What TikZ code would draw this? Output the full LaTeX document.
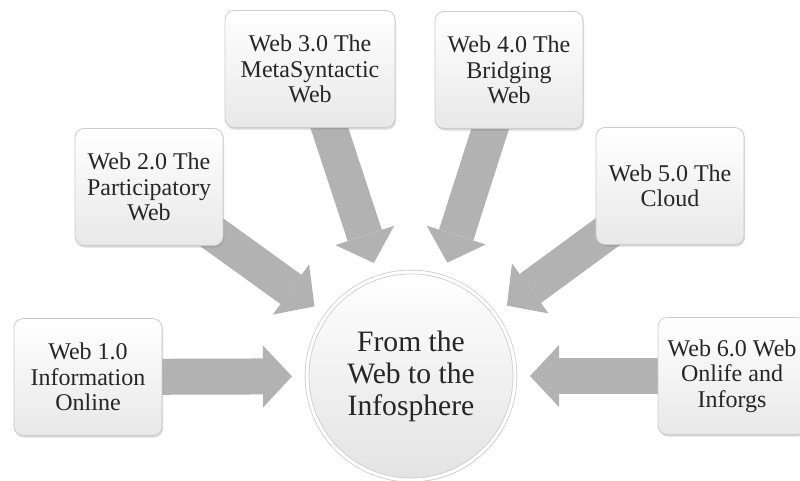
\documentclass[tikz,border=0pt]{standalone}
\usepackage{fontspec}
\setmainfont{Liberation Serif}
\usetikzlibrary{calc,arrows.meta,shadows,backgrounds}

\begin{document}
\begin{tikzpicture}[
        x=1pt, y=-1pt,
        webbox/.style={draw=gray!40, line width=0.8pt, rounded corners=9pt,
          top color=white, bottom color=gray!18, text=black!85,
          minimum width=148pt, minimum height=117pt, inner sep=2pt,
          align=center, font=\fontsize{24}{25.5}\selectfont,
          drop shadow={opacity=0.3, shadow xshift=1pt, shadow yshift=-2pt}},
        hubcircle/.style={circle, draw=gray!40, line width=0.8pt,
          double=white, double distance=3pt, minimum size=208pt, inner sep=0pt,
          top color=white, bottom color=gray!22, text=black!85,
          align=center, font=\fontsize{29.6}{32}\selectfont,
          drop shadow={opacity=0.3, shadow xshift=1pt, shadow yshift=-2pt}},
        bigarrow/.style={draw=gray!60, line width=36pt,
          -{Triangle[length=29pt, width=62pt, line width=0pt]}}
      ]
      \useasboundingbox (0,0) rectangle (800,480);
      \node[webbox] (web1) at (88,377) {Web 1.0\\Information\\Online};
      \node[webbox] (web2) at (149,187) {Web 2.0 The\\Participatory\\Web};
      \node[webbox, minimum width=170pt] (web3) at (310,69) {Web 3.0 The\\MetaSyntactic\\Web};
      \node[webbox] (web4) at (509,70) {Web 4.0 The\\Bridging\\Web};
      \node[webbox] (web5) at (670,186) {Web 5.0 The\\Cloud};
      \node[webbox] (web6) at (732,376) {Web 6.0 Web\\Onlife and\\Inforgs};
      \node[hubcircle] (hub) at (411,376) {From the\\Web to the\\Infosphere};
      % arrows behind the boxes, pointing at the hub
      \begin{scope}[on background layer]
        \foreach \w in {web1,web2,web3,web4,web5,web6}
          \draw[bigarrow] (\w.center) -- ($(hub)!119pt!(\w)$);
      \end{scope}
      \end{tikzpicture}
\end{document}
